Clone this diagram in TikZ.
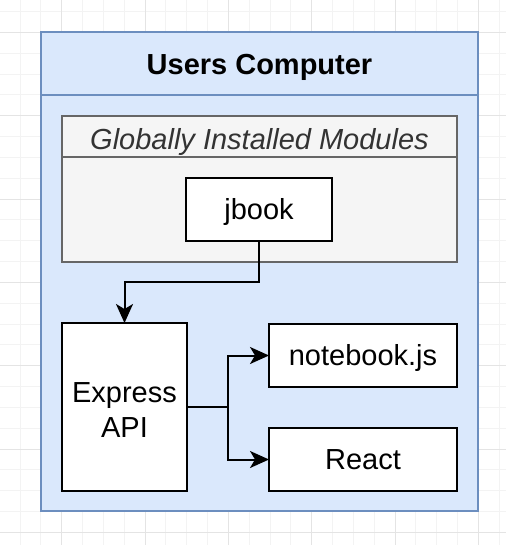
\documentclass[tikz,border=0pt]{standalone}
\usepackage{fontspec}
\setmainfont{Liberation Sans}
\usetikzlibrary{arrows.meta}
\definecolor{bluefill}{HTML}{DAE8FC}
\definecolor{bluestroke}{HTML}{6C8EBF}
\definecolor{grayfill}{HTML}{F5F5F5}
\definecolor{graystroke}{HTML}{666666}
\definecolor{graytext}{HTML}{333333}
\definecolor{gridminor}{HTML}{F3F3F3}
\definecolor{gridmajor}{HTML}{E4E4E4}
\begin{document}
\begin{tikzpicture}[x=1pt,y=-1pt,
  every node/.style={inner sep=0pt,outer sep=0pt},
  lbl/.style={font=\fontsize{29}{34.4}\selectfont},
  bluebox/.style={draw=bluestroke,fill=bluefill,line width=2pt,rectangle},
  graybox/.style={draw=graystroke,fill=grayfill,line width=2pt,rectangle},
  whitebox/.style={draw=black,fill=white,line width=2pt,rectangle,lbl,text height=20.8pt,text depth=0pt},
  arr/.style={draw=black,line width=2pt,-{Stealth[length=19pt,width=17pt,inset=5pt]}},
  conn/.style={draw=black,line width=2pt}
]
\useasboundingbox (0,0) rectangle (506,545);
\fill[white] (0,0) rectangle (506,545);
% grid
\foreach \i in {0,...,25} {
  \draw[gridminor,line width=0.8pt] ({-0.8+20.833*\i},0) -- ({-0.8+20.833*\i},545);
}
\foreach \i in {0,...,26} {
  \draw[gridminor,line width=0.8pt] (0,{11.5+20.833*\i}) -- (506,{11.5+20.833*\i});
}
\foreach \i in {0,...,5} {
  \draw[gridmajor,line width=0.8pt] ({61.7+83.333*\i},0) -- ({61.7+83.333*\i},545);
}
\foreach \i in {0,...,6} {
  \draw[gridmajor,line width=0.8pt] (0,{32.3+83.333*\i}) -- (506,{32.3+83.333*\i});
}
% outer container
\node[bluebox,minimum width=437pt,minimum height=479pt] (outer) at (259.5,271.5) {};
\node[bluebox,minimum width=437pt,minimum height=63pt,lbl,font=\fontsize{29}{34}\selectfont\bfseries,text height=22.8pt,text depth=0pt] (hdr) at (259.5,63.5) {Users Computer};
% globally installed modules
\node[graybox,minimum width=395pt,minimum height=146pt] (gim) at (259.5,189) {};
\node[graybox,minimum width=395pt,minimum height=41pt,lbl,font=\fontsize{29}{34}\selectfont\itshape,text=graytext,text height=25.6pt,text depth=0pt] (gimhdr) at (259.5,136.5) {Globally Installed Modules};
% boxes
\node[whitebox,minimum width=146pt,minimum height=63pt] (jbook) at (259,209.5) {jbook};
\node[draw=black,fill=white,line width=2pt,minimum width=125pt,minimum height=168pt] (express) at (124.5,407) {};
\node[lbl,align=center,yshift=-3pt] (expresstext) at (express.center) {Express\\API};
\node[whitebox,minimum width=188pt,minimum height=63pt] (nb) at (363,355.5) {notebook.js};
\node[whitebox,minimum width=188pt,minimum height=63pt] (react) at (363,459.5) {React};
% connectors
\coordinate (bendy) at (0,282);
\coordinate (splitx) at (228,0);
\draw[arr] (jbook.south) -- (jbook.south |- bendy) -- (express.north |- bendy) -- (express.north);
\draw[arr] (express.east) -- (express.east -| splitx) |- (nb.west);
\draw[arr] (express.east) -- (express.east -| splitx) |- (react.west);
\end{tikzpicture}
\end{document}
